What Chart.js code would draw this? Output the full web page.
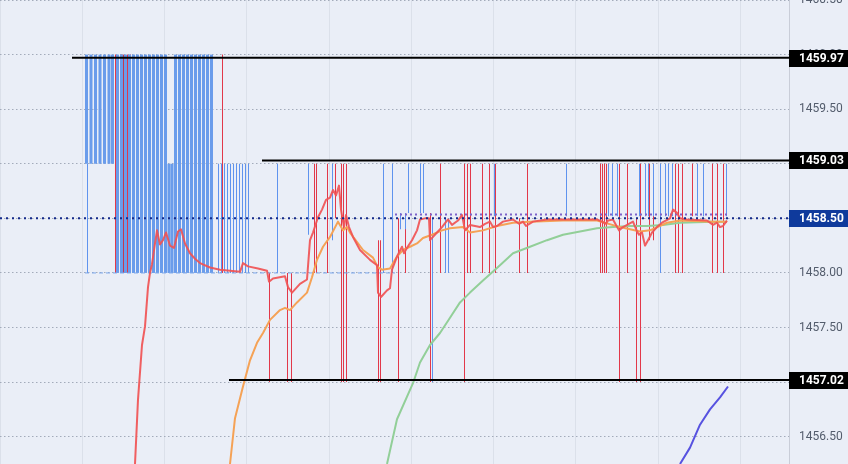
<!DOCTYPE html>
<html>
<head>
<meta charset="utf-8">
<script src="https://cdn.jsdelivr.net/npm/chart.js@4.4.1/dist/chart.umd.min.js"></script>
<style>
  html, body { margin: 0; padding: 0; background: #eaeef7; }
  #wrap { width: 848px; height: 464px; }
</style>
</head>
<body>
<div id="wrap"><canvas id="priceChart" width="848" height="464"></canvas></div>
<script>
// price axis
const yTicks = [1456.5, 1457, 1457.5, 1458, 1458.5, 1459, 1459.5, 1460, 1460.5];
const yRange = [1456.25, 1460.5];

// tick sequence (x is tick index)
const xRange = [0, 789];
const xGridStep = 82.25;

// marked levels: [price, first tick]
const levelLines = [[1459.97, 72], [1459.03, 262], [1457.02, 229]];
const lastPrice = 1458.50;

// ask ticks drawn as vertical runs: [tick, low, high]
const blueWideTicks = [
  [86.5, 1459.0, 1460.0], [91, 1459.0, 1460.0], [95.5, 1459.0, 1460.0], [100, 1459.0, 1460.0],
  [104.5, 1459.0, 1460.0], [109, 1459.0, 1460.0], [112.5, 1459.0, 1460.0],
  [117.5, 1458.0, 1460.0], [121.5, 1458.0, 1460.0], [125.5, 1458.0, 1460.0], [129.5, 1458.0, 1460.0],
  [133.5, 1458.0, 1460.0], [137.5, 1458.0, 1460.0], [141.5, 1458.0, 1460.0], [145.5, 1458.0, 1460.0],
  [149.5, 1458.0, 1460.0], [153.5, 1458.0, 1460.0], [157.5, 1458.0, 1460.0], [161.5, 1458.0, 1460.0],
  [165.5, 1458.0, 1460.0], [169, 1458.0, 1459.0], [172, 1458.0, 1459.0],
  [175.5, 1458.0, 1460.0], [179.5, 1458.0, 1460.0], [183.5, 1458.0, 1460.0], [187.5, 1458.0, 1460.0],
  [191.5, 1458.0, 1460.0], [195.5, 1458.0, 1460.0], [199.5, 1458.0, 1460.0], [203.5, 1458.0, 1460.0],
  [207.5, 1458.0, 1460.0], [211.5, 1458.0, 1460.0]
];
const blueTicks = [
  [87.5, 1458.0, 1459.0],
  [218.5, 1458.0, 1459.0], [221.5, 1458.0, 1459.0], [224.5, 1458.0, 1459.0], [227.5, 1458.0, 1459.0],
  [230.5, 1458.0, 1459.0], [233.5, 1458.0, 1459.0], [236.5, 1458.0, 1459.0], [239.5, 1458.0, 1459.0],
  [242.5, 1458.0, 1459.0], [245.5, 1458.0, 1459.0], [248.5, 1458.0, 1459.0],
  [277.5, 1458.0, 1459.0], [308.5, 1458.35, 1459.0], [332.5, 1458.3, 1459.0],
  [383.5, 1458.0, 1459.0], [392.5, 1458.0, 1459.0],
  [400.5, 1458.4, 1458.55], [405.5, 1458.4, 1458.55],
  [408.5, 1458.55, 1459.0], [420.5, 1458.55, 1459.0], [423.5, 1458.55, 1459.0],
  [432.5, 1457.0, 1458.5], [445.5, 1458.0, 1458.5], [448.5, 1458.0, 1458.5],
  [494.5, 1458.52, 1459.0], [566.5, 1458.52, 1459.0],
  [608.5, 1458.52, 1459.0], [612.5, 1458.52, 1459.0], [617.5, 1458.52, 1459.0],
  [639.5, 1458.52, 1459.0], [645.5, 1458.52, 1459.0], [648.5, 1458.52, 1459.0], [653.5, 1458.52, 1459.0],
  [660.5, 1458.0, 1459.0],
  [665.5, 1458.52, 1459.0], [668.5, 1458.52, 1459.0], [672.5, 1458.52, 1459.0],
  [697.5, 1458.52, 1459.0], [703.5, 1458.52, 1459.0], [726.5, 1458.52, 1459.0]
];

// bid ticks
const redWideTicks = [[122.5, 1458.0, 1460.0]];
const redTicks = [
  [115.5, 1458.0, 1460.0], [127.5, 1458.0, 1460.0], [130.5, 1458.0, 1460.0], [222.5, 1458.0, 1460.0],
  [269.5, 1457.0, 1458.0], [287.5, 1457.0, 1458.0], [291.5, 1457.0, 1458.0],
  [314.5, 1458.0, 1459.0], [316.5, 1458.0, 1459.0], [327.5, 1458.0, 1459.0], [335.5, 1458.5, 1459.0],
  [341.5, 1457.0, 1459.0], [343.5, 1457.0, 1459.0], [346.5, 1457.0, 1459.0],
  [378.5, 1457.0, 1458.3], [380.5, 1457.0, 1458.3],
  [398.5, 1457.0, 1458.5], [405.5, 1458.0, 1458.45],
  [430.5, 1457.0, 1458.55], [440.5, 1458.0, 1459.0], [464.5, 1457.0, 1459.0],
  [467.5, 1458.0, 1459.0], [470.5, 1458.0, 1459.0],
  [482.5, 1458.0, 1459.0], [489.5, 1458.0, 1459.0], [495.5, 1458.0, 1459.0],
  [519.5, 1458.0, 1458.5], [527.5, 1458.0, 1459.0],
  [600.5, 1458.0, 1459.0], [602.5, 1458.0, 1459.0], [604.5, 1458.0, 1459.0], [606.5, 1458.0, 1459.0],
  [619.5, 1457.0, 1459.0], [627.5, 1458.0, 1459.0], [636.5, 1457.0, 1458.5], [640.5, 1457.0, 1459.0],
  [649.5, 1458.3, 1459.0], [653.5, 1458.3, 1459.0],
  [675.5, 1458.0, 1459.0], [678.5, 1458.0, 1459.0], [682.5, 1458.0, 1459.0],
  [692.5, 1458.52, 1459.0],
  [712.5, 1458.0, 1459.0], [717.5, 1458.0, 1459.0], [723.5, 1458.0, 1459.0]
];

// small bid marks just above last price, and ask floor
const bidMarks = [[395, 1458.535], [727, 1458.535]];
const askFloor = [[85, 1458.0], [395, 1458.0]];

// moving averages [tick, price]
const fastMA = [
  [135, 1456.25], [138, 1456.84], [142, 1457.34], [145, 1457.51], [148, 1457.87], [150, 1458.00],
  [152, 1458.08], [155, 1458.27], [157, 1458.39], [160, 1458.26], [163, 1458.30], [166, 1458.37],
  [170, 1458.25], [174, 1458.23], [178, 1458.38], [181, 1458.40], [185, 1458.27], [190, 1458.18],
  [195, 1458.13], [200, 1458.09], [210, 1458.05], [220, 1458.03], [230, 1458.02], [240, 1458.01],
  [243, 1458.09], [248, 1458.06], [258, 1458.04], [267, 1458.02], [269, 1457.92], [273, 1457.95],
  [285, 1457.97], [288, 1457.87], [292, 1457.82], [300, 1457.90], [307, 1457.94], [310, 1458.30],
  [313, 1458.37], [318, 1458.51], [322, 1458.58], [326, 1458.67], [330, 1458.69], [333, 1458.76],
  [336, 1458.71], [339, 1458.80], [341, 1458.58], [344, 1458.42], [346, 1458.53], [349, 1458.42],
  [353, 1458.33], [360, 1458.21], [370, 1458.12], [377, 1458.07], [378, 1457.82], [381, 1457.78],
  [387, 1457.84], [390, 1457.86], [392, 1458.03], [397, 1458.15], [402, 1458.24], [404, 1458.18],
  [407, 1458.23], [412, 1458.30], [417, 1458.39], [420, 1458.49], [425, 1458.50], [429, 1458.50],
  [430, 1458.30], [437, 1458.37], [442, 1458.42], [448, 1458.49], [452, 1458.44], [458, 1458.48],
  [462, 1458.53], [465, 1458.39], [470, 1458.44], [480, 1458.42], [485, 1458.45], [490, 1458.47],
  [493, 1458.42], [497, 1458.43], [503, 1458.47], [513, 1458.49], [519, 1458.45], [523, 1458.47],
  [526, 1458.43], [533, 1458.47], [547, 1458.49], [563, 1458.49], [580, 1458.49], [597, 1458.49],
  [602, 1458.47], [606, 1458.45], [608, 1458.48], [613, 1458.49], [619, 1458.39], [623, 1458.42],
  [633, 1458.47], [637, 1458.38], [639, 1458.35], [642, 1458.37], [645, 1458.25], [648, 1458.30],
  [652, 1458.37], [657, 1458.42], [662, 1458.46], [670, 1458.50], [673, 1458.58], [677, 1458.55],
  [680, 1458.50], [687, 1458.49], [707, 1458.48], [713, 1458.44], [717, 1458.46], [720, 1458.42],
  [723, 1458.43], [727, 1458.48]
];
const midMA = [
  [230, 1456.25], [235, 1456.67], [243, 1456.96], [250, 1457.20], [257, 1457.36], [263, 1457.45],
  [270, 1457.57], [280, 1457.66], [285, 1457.68], [290, 1457.66], [297, 1457.73], [307, 1457.82],
  [312, 1457.96], [317, 1458.12], [323, 1458.24], [330, 1458.33], [338, 1458.47], [343, 1458.39],
  [347, 1458.42], [350, 1458.37], [363, 1458.21], [373, 1458.14], [378, 1458.05], [382, 1458.03],
  [390, 1458.04], [393, 1458.09], [397, 1458.15], [403, 1458.21], [410, 1458.24], [417, 1458.27],
  [423, 1458.32], [432, 1458.35], [442, 1458.39], [450, 1458.41], [463, 1458.42], [470, 1458.37],
  [483, 1458.39], [497, 1458.43], [513, 1458.46], [530, 1458.47], [563, 1458.48], [597, 1458.48],
  [620, 1458.42], [640, 1458.38], [650, 1458.39], [667, 1458.46], [680, 1458.48], [713, 1458.47],
  [727, 1458.47]
];
const slowMA = [
  [387, 1456.25], [397, 1456.66], [413, 1456.99], [420, 1457.18], [430, 1457.34], [440, 1457.45],
  [450, 1457.59], [460, 1457.73], [470, 1457.82], [483, 1457.93], [500, 1458.07], [513, 1458.18],
  [530, 1458.24], [547, 1458.30], [563, 1458.35], [580, 1458.38], [597, 1458.41], [613, 1458.42],
  [630, 1458.43], [647, 1458.43], [663, 1458.44], [680, 1458.46], [713, 1458.47], [727, 1458.47]
];
const trendMA = [
  [680, 1456.25], [690, 1456.40], [700, 1456.61], [710, 1456.75], [720, 1456.86], [728, 1456.96]
];

const toBars = rows => rows.map(r => ({ x: r[0], y: [r[1], r[2]] }));

function tickBars(rows, color, thickness) {
  return {
    type: "bar",
    data: toBars(rows),
    backgroundColor: color,
    borderWidth: 0,
    inflateAmount: 0,
    barThickness: thickness,
    grouped: false,
    order: 10
  };
}

function maLine(rows, color, order) {
  return {
    type: "line",
    data: rows,
    borderColor: color,
    borderWidth: 2,
    pointRadius: 0,
    tension: 0,
    borderJoinStyle: "round",
    order: order
  };
}

const datasets = [
  tickBars(blueWideTicks, "#6a9ceb", 3),
  tickBars(blueTicks, "#5f93ee", 1),
  tickBars(redWideTicks, "#c2394f", 3),
  tickBars(redTicks, "#e2384a", 1),
  { type: "line", data: askFloor, borderColor: "#7aa6ec", borderWidth: 1, borderDash: [4, 3], pointRadius: 0, order: 9 },
  { type: "line", data: bidMarks, borderColor: "#7d62c9", borderWidth: 2, borderDash: [2, 3], pointRadius: 0, order: 8 },
  maLine(trendMA, "#5752e0", 5),
  maLine(slowMA, "#92cf98", 4),
  maLine(midMA, "#f5a256", 3),
  maLine(fastMA, "rgba(240,82,84,0.92)", 2)
];

levelLines.forEach(l => {
  datasets.push({
    type: "line",
    data: [[l[1], l[0]], [xRange[1], l[0]]],
    borderColor: "#000000",
    borderWidth: 2,
    pointRadius: 0,
    order: 0
  });
});
datasets.push({
  type: "line",
  data: [[xRange[0], lastPrice], [xRange[1], lastPrice]],
  borderColor: "#13298a",
  borderWidth: 2,
  borderDash: [2, 4],
  pointRadius: 0,
  order: 0
});

// price tags on the right axis
const priceTags = {
  id: "priceTags",
  afterDraw(chart) {
    const ctx = chart.ctx;
    const y = chart.scales.y;
    const left = chart.chartArea.right;
    const tags = levelLines.map(l => [l[0], "#000000"]).concat([[lastPrice, "#0f3a9c"]]);
    ctx.save();
    ctx.font = "bold 12px Roboto, 'Noto Sans', sans-serif";
    ctx.textBaseline = "middle";
    ctx.textAlign = "left";
    tags.forEach(t => {
      const py = Math.round(y.getPixelForValue(t[0]));
      ctx.fillStyle = t[1];
      ctx.fillRect(left, py - 8, chart.width - left, 17);
      ctx.fillStyle = "#ffffff";
      ctx.fillText(t[0].toFixed(2), left + 10, py + 0.5);
    });
    ctx.restore();
  }
};

new Chart(document.getElementById("priceChart"), {
  data: { datasets: datasets },
  options: {
    responsive: false,
    animation: false,
    devicePixelRatio: 1,
    layout: { padding: 0 },
    plugins: { legend: { display: false }, tooltip: { enabled: false } },
    scales: {
      x: {
        type: "linear",
        offset: false,
        min: xRange[0],
        max: xRange[1],
        ticks: { display: false, stepSize: xGridStep, includeBounds: false },
        grid: { color: "#dbe0ea", drawTicks: false, offset: false },
        border: { display: false },
        afterFit: s => { s.height = 0; s.paddingLeft = 0; s.paddingRight = 0; }
      },
      y: {
        type: "linear",
        position: "right",
        min: yRange[0],
        max: yRange[1],
        afterBuildTicks: s => { s.ticks = yTicks.map(v => ({ value: v })); },
        afterFit: s => { s.width = 59; s.paddingTop = 0; s.paddingBottom = 0; },
        ticks: {
          padding: 10,
          autoSkip: false,
          color: "#535c6c",
          font: { family: "Roboto", size: 12 },
          callback: v => v.toFixed(2)
        },
        grid: { color: "#a3abba", drawTicks: false },
        border: { display: true, color: "#c9cdd8", dash: [1.5, 2.5] }
      }
    }
  },
  plugins: [priceTags]
});
</script>
</body>
</html>
